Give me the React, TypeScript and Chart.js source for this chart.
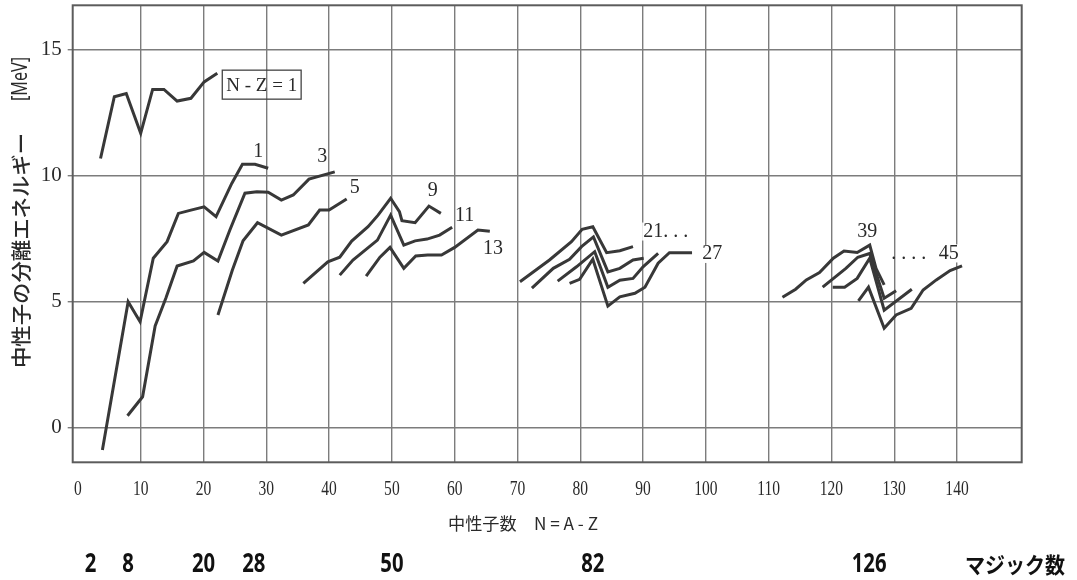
import React, { useEffect, useRef } from 'react';
import { Chart, registerables } from 'chart.js';
Chart.register(...registerables);

// ---- axes ----
const xTickValues = [0, 10, 20, 30, 40, 50, 60, 70, 80, 90, 100, 110, 120, 130, 140];
const yTickValues = [0, 5, 10, 15];
const xTitle = '中性子数　N = A - Z';
const yTitleMain = '中性子の分離エネルギー';
const yTitleUnit = '[MeV]';

// ---- series (N, separation energy in MeV) ----
const nz1N = [3.6, 5.8, 7.7, 10.0, 11.9, 13.7, 15.8, 18.0, 20.1, 22.2];
const nz1S = [10.67, 13.12, 13.25, 11.67, 13.41, 13.41, 12.95, 13.06, 13.71, 14.05];

const c1N = [3.9, 8.0, 9.9, 12.0, 14.2, 16.0, 18.0, 20.1, 22.0, 24.5, 26.2, 28.2, 30.3];
const c1S = [-0.9, 4.98, 4.19, 6.71, 7.37, 8.49, 8.62, 8.75, 8.36, 9.68, 10.44, 10.44, 10.28];

const c3N = [7.9, 10.3, 12.3, 14.0, 15.8, 18.4, 20.1, 22.3, 24.2, 26.6, 28.5, 30.3, 32.4, 34.3, 36.8, 40.9];
const c3S = [0.46, 1.21, 4.02, 5.12, 6.4, 6.6, 6.94, 6.6, 7.83, 9.29, 9.35, 9.33, 9.02, 9.22, 9.85, 10.14];

const c5N = [22.3, 24.6, 26.3, 28.6, 32.4, 36.7, 38.5, 40.0, 42.8];
const c5S = [4.46, 6.24, 7.4, 8.12, 7.63, 8.03, 8.62, 8.62, 9.06];

const c9N = [35.9, 39.8, 41.7, 43.6, 46.2, 47.8, 49.8, 51.2, 51.6, 53.7, 55.9, 57.8];
const c9S = [5.71, 6.57, 6.75, 7.39, 7.96, 8.42, 9.09, 8.56, 8.2, 8.12, 8.78, 8.49];

const c11N = [41.7, 43.8, 47.7, 49.8, 51.9, 53.7, 55.6, 57.6, 59.6];
const c11S = [6.04, 6.64, 7.43, 8.42, 7.23, 7.4, 7.47, 7.63, 7.94];

const c13N = [45.9, 48.1, 49.7, 51.9, 53.8, 55.7, 57.9, 60.0, 63.7, 65.6];
const c13S = [6.0, 6.75, 7.14, 6.31, 6.8, 6.84, 6.84, 7.14, 7.83, 7.78];

const c21N = [70.4, 75.1, 78.6, 80.3, 82.0, 84.2, 86.3, 88.4];
const c21S = [5.78, 6.64, 7.37, 7.86, 7.96, 6.93, 7.01, 7.17];

const c23N = [72.3, 75.7, 78.3, 80.2, 82.1, 84.4, 86.3, 88.4, 90.1];
const c23S = [5.52, 6.31, 6.67, 7.17, 7.56, 6.17, 6.31, 6.64, 6.71];

const c25N = [76.4, 79.4, 82.3, 84.4, 86.3, 88.4, 90.0, 92.4];
const c25S = [5.8, 6.37, 6.97, 5.56, 5.84, 5.91, 6.37, 6.9];

const c27N = [78.3, 79.9, 82.0, 84.4, 86.3, 88.7, 90.3, 92.4, 94.2, 97.8];
const c27S = [5.71, 5.87, 6.67, 4.81, 5.18, 5.32, 5.56, 6.51, 6.93, 6.93];

const c39N = [112.2, 114.3, 116.0, 118.1, 120.3, 122.0, 124.1, 126.1, 127.1, 128.4];
const c39S = [5.16, 5.48, 5.85, 6.14, 6.71, 7.0, 6.94, 7.23, 6.31, 5.65];

const c41N = [118.6, 122.3, 124.2, 126.1, 128.4, 130.3];
const c41S = [5.56, 6.31, 6.75, 6.9, 5.12, 5.42];

const c43N = [120.2, 122.1, 124.1, 126.1, 128.4, 132.8];
const c43S = [5.56, 5.56, 5.91, 6.71, 4.65, 5.48];

const c45N = [124.3, 125.9, 128.4, 130.3, 132.7, 134.6, 136.7, 138.9, 140.8];
const c45S = [5.02, 5.56, 3.93, 4.46, 4.72, 5.45, 5.85, 6.22, 6.41];

const seriesN = [nz1N, c1N, c3N, c5N, c9N, c11N, c13N, c21N, c23N, c25N, c27N, c39N, c41N, c43N, c45N];
const seriesS = [nz1S, c1S, c3S, c5S, c9S, c11S, c13S, c21S, c23S, c25S, c27S, c39S, c41S, c43S, c45S];

// ---- curve labels (anchored in data coordinates) ----
const labelText = ['1', '3', '5', '9', '11', '13', '21. . .', '27', '39', '. . . .', '45'];
const labelN = [28.7, 38.9, 44.1, 56.5, 61.6, 66.1, 93.6, 101.0, 125.7, 132.3, 138.7];
const labelS = [10.92, 10.73, 9.5, 9.38, 8.39, 7.08, 7.77, 6.88, 7.77, 6.9, 6.9];
const labelOpaque = [false, false, false, false, false, false, true, true, false, false, true];

const boxText = 'N - Z = 1';
const boxN = 29.27;
const boxS = 13.6;

// ---- magic numbers row ----
const magicNumbers = [2, 8, 20, 28, 50, 82, 126];
const magicCaption = 'マジック数';

const INK = '#383838';
const TEXT = '#2a2a2a';

function drawScaled(ctx: CanvasRenderingContext2D, text: string, x: number, y: number, font: string, sx: number, align: CanvasTextAlign, color: string) {
  ctx.save();
  ctx.font = font;
  ctx.fillStyle = color;
  ctx.textAlign = align;
  ctx.textBaseline = 'middle';
  ctx.translate(x, y);
  ctx.scale(sx, 1);
  ctx.fillText(text, 0, 0);
  ctx.restore();
}

function fitScale(ctx: CanvasRenderingContext2D, text: string, font: string, width: number) {
  ctx.save();
  ctx.font = font;
  const w = ctx.measureText(text).width;
  ctx.restore();
  return width / w;
}

const annotatePlugin = {
  id: 'annotate',
  beforeDatasetsDraw(chart: any) {
    const { ctx, chartArea: a } = chart;
    ctx.save();
    ctx.strokeStyle = '#5c5c5c';
    ctx.lineWidth = 2;
    ctx.strokeRect(a.left, a.top, a.right - a.left, a.bottom - a.top);
    ctx.restore();
  },
  afterDatasetsDraw(chart: any) {
    const { ctx } = chart;
    const xs = chart.scales.x;
    const ys = chart.scales.y;
    const serif = '20px "Liberation Serif", serif';

    // curve labels
    labelText.forEach((t, i) => {
      const px = xs.getPixelForValue(labelN[i]);
      const py = ys.getPixelForValue(labelS[i]);
      if (labelOpaque[i]) {
        ctx.save();
        ctx.font = serif;
        const w = ctx.measureText(t).width;
        ctx.fillStyle = '#ffffff';
        ctx.fillRect(px - w / 2 - 1, py - 9, w + 2, 18);
        ctx.restore();
      }
      drawScaled(ctx, t, px, py, serif, 1, 'center', TEXT);
    });

    // N - Z = 1 box
    {
      const px = xs.getPixelForValue(boxN);
      const py = ys.getPixelForValue(boxS);
      const f = '19px "Liberation Serif", serif';
      ctx.save();
      ctx.font = f;
      const w = ctx.measureText(boxText).width;
      ctx.strokeStyle = '#444';
      ctx.lineWidth = 1.3;
      ctx.strokeRect(px - w / 2 - 4, py - 14.5, w + 8, 29);
      ctx.restore();
      drawScaled(ctx, boxText, px, py + 1, f, 1, 'center', TEXT);
    }

    // x tick labels (condensed)
    xTickValues.forEach((v) => {
      drawScaled(ctx, String(v), xs.getPixelForValue(v), 489, '21px "Liberation Serif", serif', 0.74, 'center', TEXT);
    });

    // x title
    {
      const f = '17px "Noto Sans CJK JP", sans-serif';
      const sx = fitScale(ctx, xTitle, f, 150);
      drawScaled(ctx, xTitle, 523, 524, f, sx, 'center', TEXT);
    }

    // magic numbers
    magicNumbers.forEach((m) => {
      drawScaled(ctx, String(m), xs.getPixelForValue(m), 565, 'bold 26px "Noto Sans", sans-serif', 0.78, 'center', '#111');
    });
    {
      const f = 'bold 22px "Noto Sans CJK JP", sans-serif';
      const sx = fitScale(ctx, magicCaption, f, 100);
      drawScaled(ctx, magicCaption, 1015, 565, f, sx, 'center', '#111');
    }

    // y title (rotated)
    {
      ctx.save();
      ctx.translate(21, 368);
      ctx.rotate(-Math.PI / 2);
      const f1 = '500 20px "Noto Sans CJK JP", sans-serif';
      const s1 = fitScale(ctx, yTitleMain, f1, 235);
      drawScaled(ctx, yTitleMain, 0, 0, f1, s1, 'left', TEXT);
      const f2 = '21px "Noto Sans", sans-serif';
      const s2 = fitScale(ctx, yTitleUnit, f2, 44);
      drawScaled(ctx, yTitleUnit, 267, 0, f2, s2, 'left', TEXT);
      ctx.restore();
    }
  },
};

export default function App() {
  const ref = useRef<HTMLCanvasElement>(null);
  useEffect(() => {
    const datasets = seriesN.map((ns, k) => ({
      data: ns.map((n, i) => ({ x: n, y: seriesS[k][i] })),
      borderColor: INK,
      borderWidth: 3,
      pointRadius: 0,
      fill: false,
      tension: 0,
      borderJoinStyle: 'miter' as const,
    }));
    const chart = new Chart(ref.current as HTMLCanvasElement, {
      type: 'line',
      data: { datasets },
      plugins: [annotatePlugin],
      options: {
        responsive: false,
        animation: false,
        layout: { padding: { left: 0, top: 5.3, right: 55.3, bottom: 0 } },
        plugins: { legend: { display: false }, tooltip: { enabled: false } },
        scales: {
          x: {
            type: 'linear',
            min: -0.83,
            max: 150.3,
            afterBuildTicks: (s: any) => { s.ticks = xTickValues.map((v) => ({ value: v })); },
            afterFit: (s: any) => { s.height = 117.7; s.paddingLeft = 0; s.paddingRight = 0; },
            grid: {
              color: (c: any) => (c.tick && c.tick.value === 0 ? 'rgba(0,0,0,0)' : '#7c7c7c'),
              lineWidth: 1.4,
              drawTicks: false,
            },
            border: { display: false },
            ticks: { display: false },
          },
          y: {
            type: 'linear',
            min: -1.39,
            max: 16.75,
            afterBuildTicks: (s: any) => { s.ticks = yTickValues.map((v) => ({ value: v })); },
            afterFit: (s: any) => { s.width = 72.7; s.paddingTop = 0; s.paddingBottom = 0; },
            grid: { color: '#7c7c7c', lineWidth: 1.4, drawTicks: true, tickLength: 5 },
            border: { display: false },
            ticks: {
              padding: 6,
              color: TEXT,
              font: { family: '"Liberation Serif", serif', size: 21 },
            },
          },
        },
      },
    });
    return () => chart.destroy();
  }, []);
  return (
    <div style={{ position: 'fixed', left: 0, top: 0, width: 1077, height: 580, background: '#fff' }}>
      <canvas ref={ref} width={1077} height={580} style={{ display: 'block', width: 1077, height: 580 }} />
    </div>
  );
}
